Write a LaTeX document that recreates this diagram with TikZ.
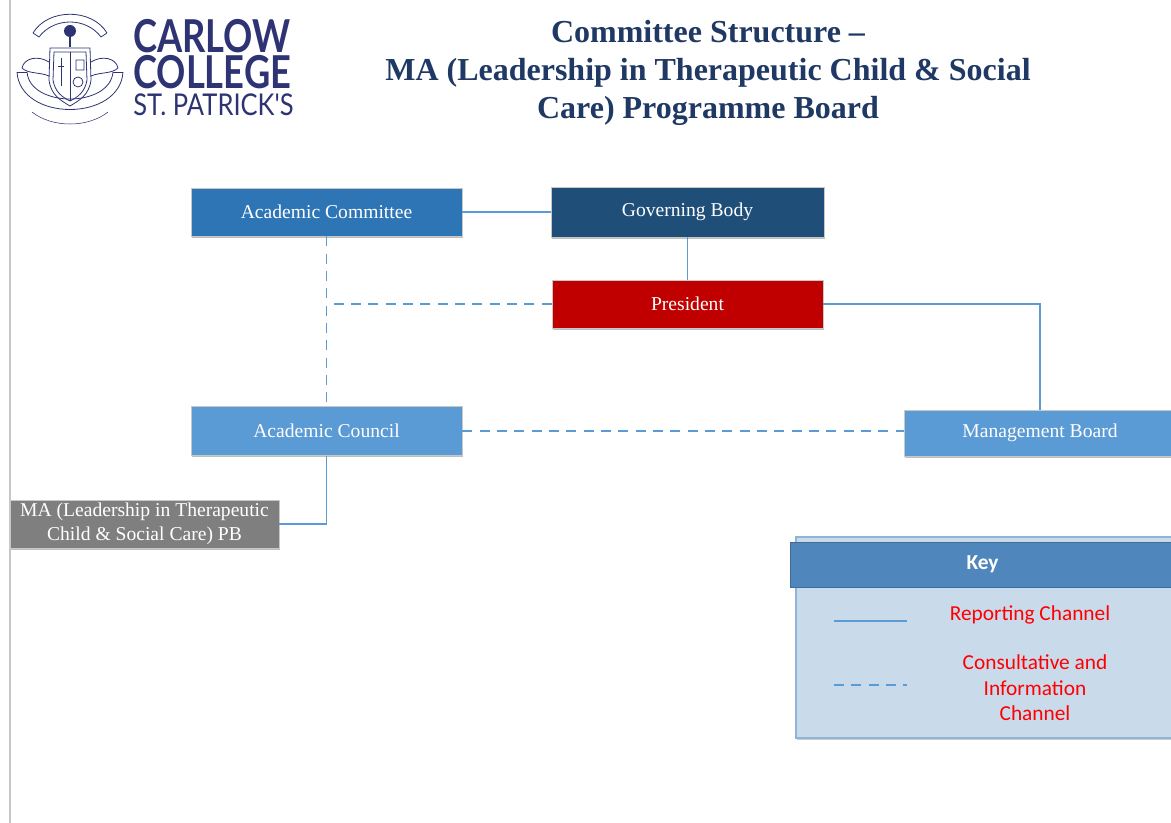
\documentclass[tikz,border=0pt]{standalone}
\usepackage{fontspec}
\setmainfont{Liberation Serif}
\newfontfamily\keyfont{Carlito}
\newfontfamily\logofont{Lato}
\usetikzlibrary{shadows}
\definecolor{logonavy}{HTML}{2E3473}
\definecolor{titlenavy}{HTML}{1F3864}
\definecolor{conn}{HTML}{5B9BD5}
\definecolor{acomfill}{HTML}{2E75B6}
\definecolor{govfill}{HTML}{1F4E79}
\definecolor{presfill}{HTML}{C00000}
\definecolor{lightfill}{HTML}{5B9BD5}
\definecolor{grayfill}{HTML}{7F7F7F}
\definecolor{boxline}{HTML}{C8C8C8}
\definecolor{keyfill}{HTML}{C9DAEA}
\definecolor{keyline}{HTML}{8EB4DA}
\definecolor{keyhead}{HTML}{4F86BB}
\definecolor{keyred}{HTML}{FF0000}
\tikzset{
  orgbox/.style={draw=boxline, line width=0.6pt, text=white, inner sep=0pt,
    font=\fontsize{14.7}{18}\selectfont, align=center,
    drop shadow={shadow xshift=0.8pt, shadow yshift=-1.2pt, opacity=0.25, fill=black}},
  rep/.style={draw=conn, line width=1.1pt},
  cons/.style={rep, dash pattern=on 7.5pt off 5.5pt},
  crest/.style={draw=logonavy, line width=0.6pt},
  logotext/.style={inner sep=0pt, text=logonavy},
  keytext/.style={font=\keyfont\fontsize{16}{19.1}\selectfont, text=keyred, align=center},
}
\begin{document}
\begin{tikzpicture}[x=0.75pt,y=-0.75pt]
\useasboundingbox (0,0) rectangle (1171,823);
\clip (0,0) rectangle (1171,823);
\fill[white] (0,0) rectangle (1171,823);
% left margin line
\draw[gray!45, line width=0.8pt] (10,0) -- (10,823);

% ---- logo crest ----
\draw[crest] (33,33) .. controls (48,8) and (92,8) .. (107,33);
\draw[crest] (39,37) .. controls (54,17) and (86,17) .. (101,37);
\draw[crest] (33,33) -- (39,37) (107,33) -- (101,37);
\fill[logonavy] (70,31) circle (6);
\draw[logonavy, line width=1.2pt] (70,36) -- (70,47);
\draw[crest] (50,48) -- (90,48) -- (91,80) .. controls (89,95) and (80,100) .. (70,106) .. controls (60,100) and (51,95) .. (49,80) -- cycle;
\draw[crest] (54,52) -- (86,52) -- (87,80) .. controls (85,92) and (78,97) .. (70,101) .. controls (62,97) and (55,92) .. (53,80) -- cycle;
\draw[crest] (70,52) -- (70,101);
\draw[crest] (61,58) -- (61,86) (58,66) -- (64,66);
\draw[crest] (78,82) circle (5) (76,60) rectangle (84,70);
\draw[crest] (49,62) .. controls (38,55) and (24,58) .. (22,68) .. controls (28,74) and (40,72) .. (49,76);
\draw[crest] (91,62) .. controls (102,55) and (116,58) .. (118,68) .. controls (112,74) and (100,72) .. (91,76);
\draw[crest] (17,72) .. controls (20,122) and (120,122) .. (123,72);
\draw[crest] (27,72) .. controls (30,108) and (110,108) .. (113,72);
\draw[crest] (17,72) -- (27,72) (123,72) -- (113,72);
\draw[crest, line width=0.4pt] (32,112) .. controls (52,128) and (88,128) .. (108,112);

% ---- logo text ----
\node[logotext, anchor=north west, align=left, font=\logofont\bfseries\fontsize{34}{27}\selectfont] (logotxt) at (133,19)
  {\scalebox{0.8}[1]{CARLOW}\\
   \scalebox{0.8}[1]{COLLEGE}\\[-6.75pt]
   {\mdseries\fontsize{22.5}{20.25}\selectfont\scalebox{0.85}[1]{ST. PATRICK'S}}};

% ---- title ----
\node[align=center, text=titlenavy, font=\bfseries\fontsize{24}{28.5}\selectfont] (title) at (708,73)
  {Committee Structure –\\MA (Leadership in Therapeutic Child \& Social\\Care) Programme Board};

% ---- org boxes ----
\node[orgbox, fill=acomfill, minimum width=203.25pt, minimum height=36pt] (acom) at (326.5,212) {Academic Committee};
\node[orgbox, fill=govfill, minimum width=204.75pt, minimum height=37.5pt] (gov) at (687.5,212) {Governing Body};
\node[orgbox, fill=presfill, minimum width=203.25pt, minimum height=36pt] (pres) at (687.5,304) {President};
\node[orgbox, fill=lightfill, minimum width=203.25pt, minimum height=36.75pt] (acou) at (326.5,431) {Academic Council};
\node[orgbox, fill=lightfill, minimum width=204pt, minimum height=34.5pt] (mgmt) at (1040,433) {Management Board};
\node[orgbox, fill=grayfill, minimum width=201.75pt, minimum height=36pt] (mapb) at (144.5,524) {MA (Leadership in Therapeutic\\Child \& Social Care) PB};

% ---- connectors ----
\draw[rep] (acom.east) -- (gov.west);
\draw[rep] (gov.south) -- (pres.north);
\draw[rep] (pres.east) -| (mgmt.north);
\draw[cons] (acom.south) -- (acou.north);
\draw[cons] (pres.west) -- (acom.south |- pres.west);
\draw[cons] (acou.east) -- (mgmt.west |- acou.east);
\draw[rep] (acou.south) |- (mapb.east);

% ---- key ----
\node[draw=keyline, fill=keyfill, line width=0.8pt, minimum width=284.25pt, minimum height=150.75pt, inner sep=0pt,
  drop shadow={shadow xshift=0.8pt, shadow yshift=-1.2pt, opacity=0.2, fill=black}] (keybox) at (985.5,637.5) {};
\node[draw=keyhead!80!black, fill=keyhead, line width=0.6pt, minimum width=288.75pt, minimum height=33.75pt, inner sep=0pt,
  text=white, font=\keyfont\bfseries\fontsize{16}{19}\selectfont] (keyhd) at (982.5,564.5) {Key};
\coordinate (k1a) at (834,621);
\coordinate (k1b) at (907,621);
\coordinate (k2a) at (834,685);
\coordinate (k2b) at (907,685);
\draw[rep] (k1a) -- (k1b);
\draw[cons] (k2a) -- (k2b);
\node[keytext] (ktrep) at (1030,615) {Reporting Channel};
\node[keytext] (ktcons) at (1035,688) {Consultative and\\Information\\Channel};
\end{tikzpicture}
\end{document}
